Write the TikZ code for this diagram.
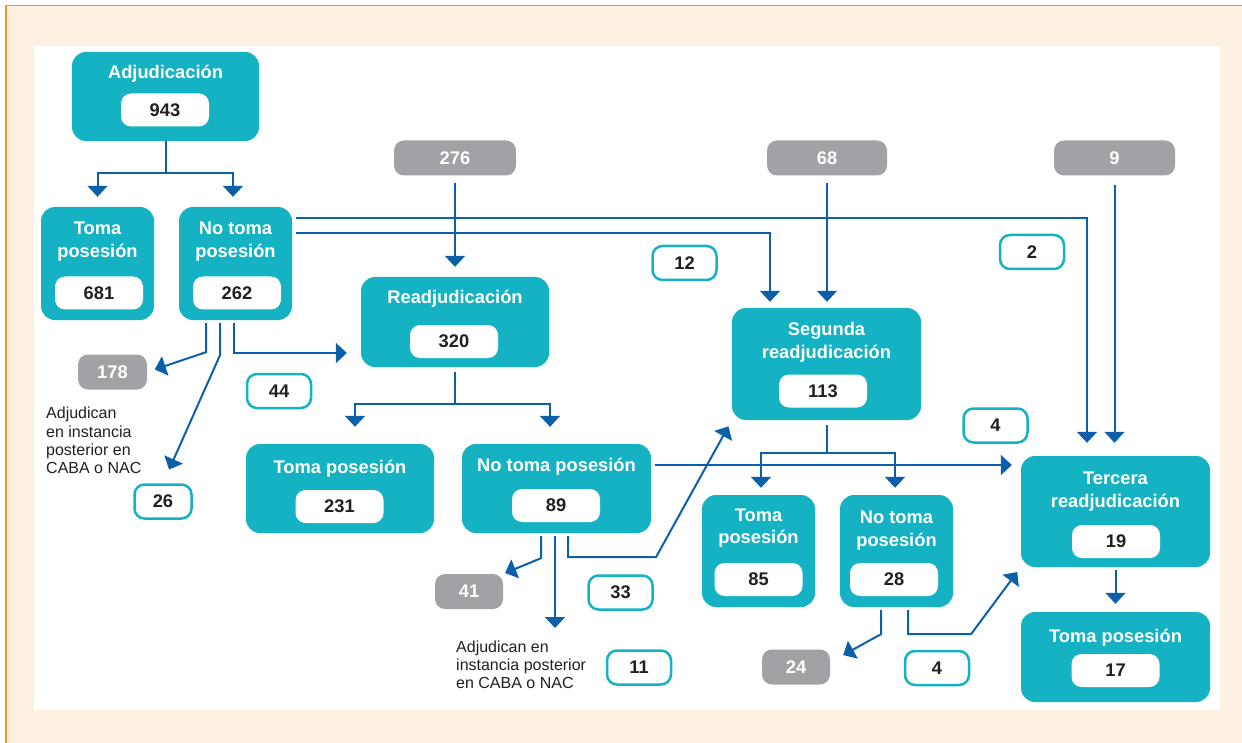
\documentclass[tikz,border=0pt]{standalone}
\usepackage{fontspec}
\setmainfont{Liberation Sans}
\usetikzlibrary{arrows.meta}
\definecolor{teal1}{RGB}{21,178,196}
\definecolor{grayb}{RGB}{161,162,165}
\definecolor{arrowc}{RGB}{12,96,170}
\definecolor{cream}{RGB}{253,240,225}
\definecolor{orangeb}{RGB}{247,150,40}
\definecolor{numc}{RGB}{35,31,32}
\begin{document}
\begin{tikzpicture}[x=1pt,y=-1pt,
  bigfont/.style={font=\fontsize{18.3}{22}\selectfont\bfseries},
  tbox/.style={fill=teal1, rounded corners=14pt, inner sep=0pt},
  ttl/.style={bigfont, text=white, inner sep=0pt, anchor=base},
  pill/.style={bigfont, fill=white, rounded corners=10pt, minimum width=88pt, minimum height=33pt, inner sep=0pt, text=numc},
  gbox/.style={bigfont, fill=grayb, rounded corners=10pt, minimum height=35pt, inner sep=0pt, text=white},
  obox/.style={bigfont, draw=teal1, line width=2.5pt, fill=white, rounded corners=10pt, minimum width=64pt, minimum height=34pt, inner sep=0pt, text=numc},
  note/.style={font=\fontsize{16}{18}\selectfont, text=numc, anchor=base west, inner sep=0pt},
  arr/.style={draw=arrowc, line width=2pt, -{Triangle[width=20pt,length=11pt]}},
]
\useasboundingbox (0,0) rectangle (1242,743);
% background
\fill[white] (0,0) rectangle (1242,743);
\fill[cream] (6,6) rectangle (1242,743);
\draw[orangeb, line width=1.5pt] (6,743) -- (6,5.5) -- (1242,5.5);
\fill[white] (34,46) rectangle (1220,710);

% teal boxes
\node[tbox, minimum width=187pt, minimum height=89pt] (adj) at (165.5,96.5) {};
\node[tbox, minimum width=113pt, minimum height=113pt] (tp1) at (97.5,263.5) {};
\node[tbox, minimum width=113pt, minimum height=113pt] (nt1) at (235.5,263.5) {};
\node[tbox, minimum width=188pt, minimum height=90pt] (rea) at (455,322) {};
\node[tbox, minimum width=189pt, minimum height=112pt] (seg) at (826.5,364) {};
\node[tbox, minimum width=188pt, minimum height=89pt] (tp2) at (340,488.5) {};
\node[tbox, minimum width=189pt, minimum height=89pt] (nt2) at (556.5,488.5) {};
\node[tbox, minimum width=189pt, minimum height=111pt] (ter) at (1115.5,511.5) {};
\node[tbox, minimum width=113pt, minimum height=112pt] (tp3) at (758.5,551) {};
\node[tbox, minimum width=113pt, minimum height=112pt] (nt3) at (896.5,551) {};
\node[tbox, minimum width=189pt, minimum height=90pt] (tp4) at (1115.5,657) {};

% titles
\node[ttl] (adjT) at (165.5,79) {Adjudicación};
\node[ttl] (tp1Ta) at (97.5,235) {Toma};
\node[ttl] (tp1Tb) at (97.5,258) {posesión};
\node[ttl] (nt1Ta) at (235.5,235) {No toma};
\node[ttl] (nt1Tb) at (235.5,258) {posesión};
\node[ttl] (reaT) at (455,304) {Readjudicación};
\node[ttl] (segTa) at (826.5,335) {Segunda};
\node[ttl] (segTb) at (826.5,358) {readjudicación};
\node[ttl] (tp2T) at (340,473) {Toma posesión};
\node[ttl] (nt2T) at (556.5,471) {No toma posesión};
\node[ttl] (terTa) at (1115.5,484) {Tercera};
\node[ttl] (terTb) at (1115.5,507) {readjudicación};
\node[ttl] (tp3Ta) at (758.5,521) {Toma};
\node[ttl] (tp3Tb) at (758.5,543) {posesión};
\node[ttl] (nt3Ta) at (896.5,523) {No toma};
\node[ttl] (nt3Tb) at (896.5,546) {posesión};
\node[ttl] (tp4T) at (1115.5,642) {Toma posesión};

% pills
\node[pill] (adjN) at (165,110) {943};
\node[pill] (tp1N) at (99,293) {681};
\node[pill] (nt1N) at (237,293) {262};
\node[pill] (reaN) at (454,341.5) {320};
\node[pill] (segN) at (823,391) {113};
\node[pill] (tp2N) at (339.5,506.5) {231};
\node[pill] (nt2N) at (556,505.5) {89};
\node[pill] (terN) at (1116,541.5) {19};
\node[pill] (tp3N) at (758.5,579.5) {85};
\node[pill] (nt3N) at (894,579.5) {28};
\node[pill] (tp4N) at (1115.5,670.5) {17};

% gray boxes
\node[gbox, minimum width=122pt] (g276) at (455,158) {276};
\node[gbox, minimum width=120pt] (g68) at (827,158) {68};
\node[gbox, minimum width=121pt] (g9) at (1114.5,158) {9};
\node[gbox, minimum width=69pt] (g178) at (112.5,372) {178};
\node[gbox, minimum width=68pt] (g41) at (469,591.5) {41};
\node[gbox, minimum width=68pt] (g24) at (796,667) {24};

% outline boxes
\node[obox] (o12) at (684.5,263) {12};
\node[obox] (o2) at (1032,252) {2};
\node[obox] (o4a) at (995.5,425.5) {4};
\node[obox] (o44) at (279,391) {44};
\node[obox, minimum width=57pt] (o26) at (163,501.5) {26};
\node[obox] (o33) at (620.5,592.5) {33};
\node[obox] (o11) at (639,667.5) {11};
\node[obox] (o4b) at (937,668) {4};

% notes
\node[note] (n1a) at (46,418) {Adjudican};
\node[note] (n1b) at (46,437) {en instancia};
\node[note] (n1c) at (46,455) {posterior en};
\node[note] (n1d) at (46,473) {CABA o NAC};
\node[note] (n2a) at (456,652) {Adjudican en};
\node[note] (n2b) at (456,670) {instancia posterior};
\node[note] (n2c) at (456,688) {en CABA o NAC};

% connectors
\draw[arr, shorten >=10pt] (adj.south) -- ++(0,32) -| (tp1.north);
\draw[arr, shorten >=10pt] (adj.south) -- ++(0,32) -| ([xshift=-2.5pt]nt1.north);
\draw[arr, shorten <=4pt, shorten >=13pt] ([yshift=45.5pt]nt1.east) -| ([xshift=-28.5pt]ter.north);
\draw[arr, shorten <=4pt, shorten >=6pt] ([yshift=30.5pt]nt1.east) -| ([xshift=-56.5pt]seg.north);
\draw[arr, shorten <=7pt, shorten >=10pt] (g276.south) -- (rea.north);
\draw[arr, shorten <=7pt, shorten >=6pt] (g68.south) -- (g68.south |- seg.north);
\draw[arr, shorten <=9pt, shorten >=13pt] (g9.south) -- (g9.south |- ter.north);
\draw[arr, shorten <=3pt, shorten >=8pt] ([xshift=-29.5pt]nt1.south) -- ++(0,32) -- (g178.east);
\draw[arr, shorten <=3pt, shorten >=15pt] ([xshift=-15.5pt]nt1.south) -- ++(0,35) -- (o26.north);
\draw[arr, shorten <=3pt, shorten >=14pt] ([xshift=-1.5pt]nt1.south) |- ([yshift=-31pt]rea.west);
\draw[arr, shorten <=5pt, shorten >=17pt] (rea.south) -- ++(0,37) -| ([xshift=15pt]tp2.north);
\draw[arr, shorten <=5pt, shorten >=17pt] (rea.south) -- ++(0,37) -| ([xshift=-6.5pt]nt2.north);
\draw[arr, shorten <=4pt, shorten >=9pt] ([yshift=23.5pt]nt2.east) -- ([yshift=46.5pt]ter.west);
\draw[arr, shorten <=3pt, shorten >=2pt] ([xshift=-15.5pt]nt2.south) -- ++(0,25) -- (g41.north east);
\coordinate (e10) at (555,628);
\draw[arr, shorten <=3pt] ([xshift=-1.5pt]nt2.south) -- (e10);
\draw[arr, shorten <=3pt, shorten >=7pt] ([xshift=11.5pt]nt2.south) -- ++(0,24) -- ++(88,0) -- (seg.south west);
\draw[arr, shorten <=5pt, shorten >=7pt] (seg.south) -- ++(0,33) -| ([xshift=2.5pt]tp3.north);
\draw[arr, shorten <=5pt, shorten >=7pt] (seg.south) -- ++(0,33) -| ([xshift=-1.5pt]nt3.north);
\draw[arr, shorten <=3pt] ([xshift=-15.5pt]nt3.south) -- ++(0,27) -- ([xshift=13pt,yshift=12pt]g24.east);
\draw[arr, shorten <=3pt, shorten >=6pt] ([xshift=11.5pt]nt3.south) -- ++(0,27) -- ++(63,0) -- (ter.south west);
\draw[arr, shorten <=3pt, shorten >=8pt] (ter.south) -- (tp4.north);
\end{tikzpicture}
\end{document}
